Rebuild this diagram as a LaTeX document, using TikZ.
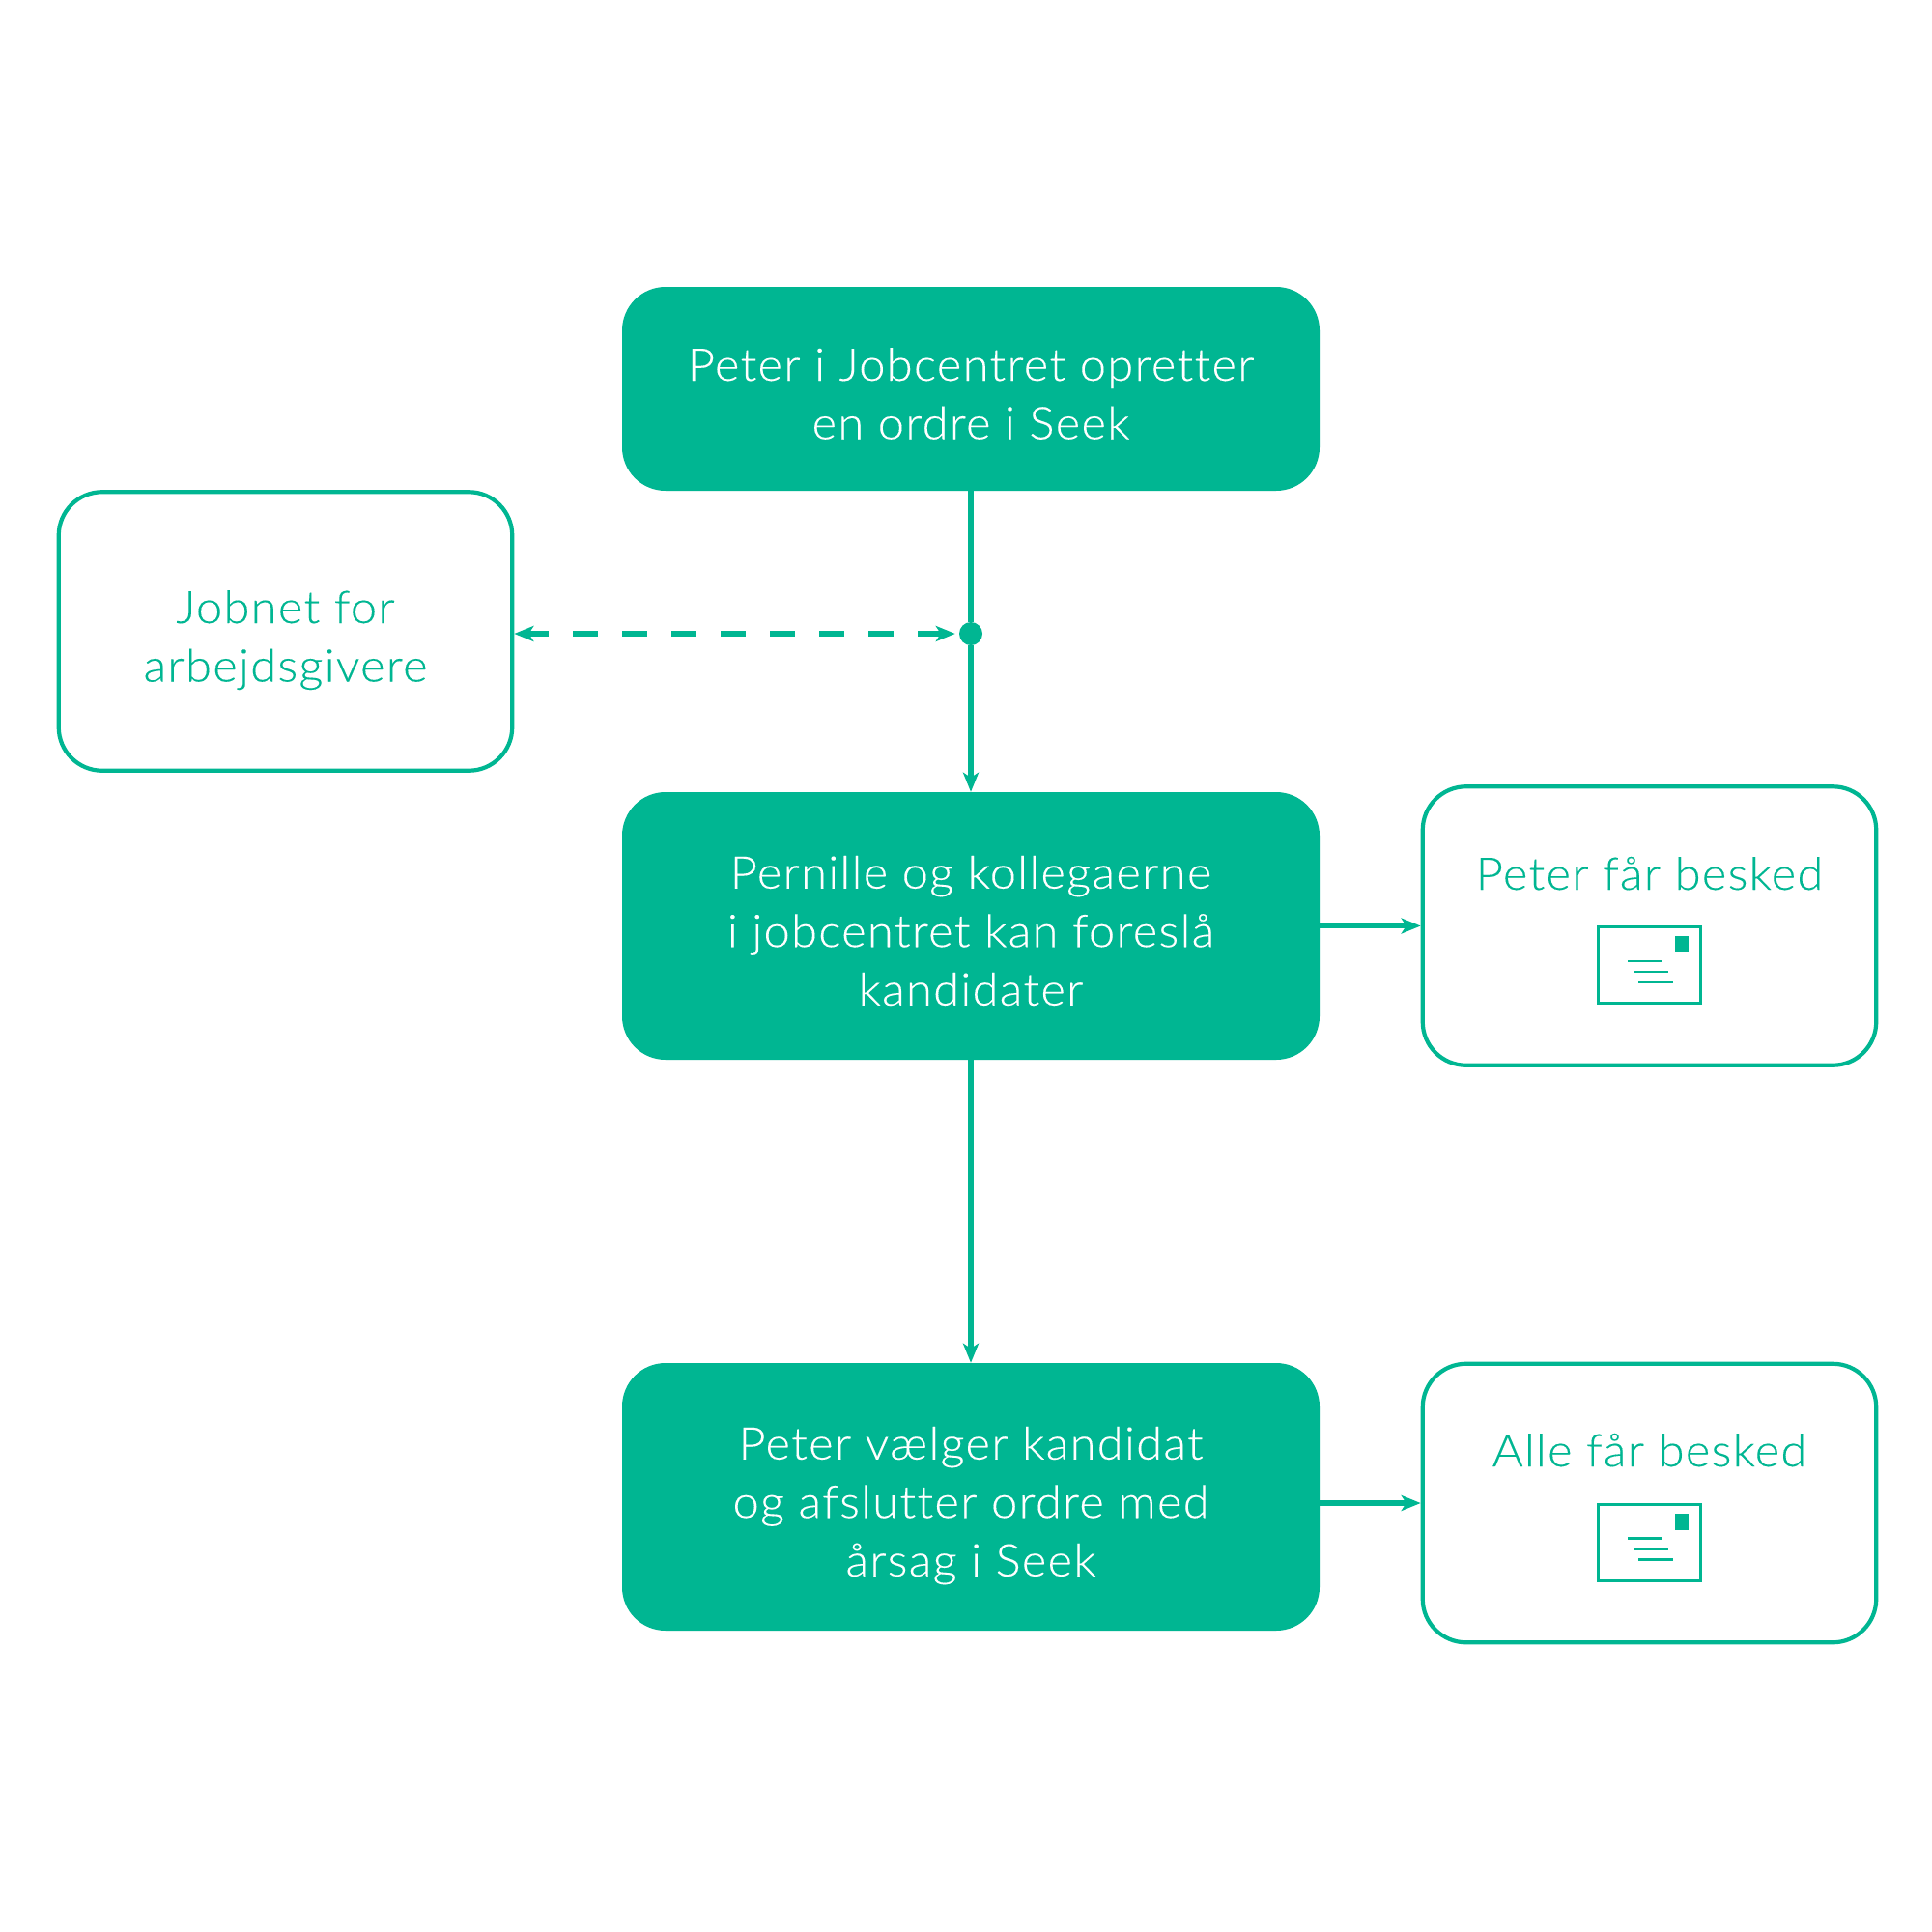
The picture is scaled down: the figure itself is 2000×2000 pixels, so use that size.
\documentclass[tikz,border=0pt]{standalone}
\usepackage{fontspec}
\setmainfont{Lato Light}[FakeStretch=1.05,LetterSpace=2.8,FakeBold=0.2,RawFeature=-liga]
\usetikzlibrary{arrows.meta}
\definecolor{jobgreen}{HTML}{00B692}
\newcommand{\firstln}{\rule{0pt}{55.5pt}}
\newcommand{\lastln}{\rule[-12pt]{0pt}{1pt}}
\tikzset{
  x=1pt,y=-1pt,
  boxtext/.style={align=center,font=\fontsize{46.5}{60.5}\selectfont,inner sep=0pt},
  solidbox/.style={boxtext,rectangle,rounded corners=45pt,fill=jobgreen,text=white,minimum width=722pt},
  outlinebox/.style={boxtext,rectangle,rounded corners=45pt,draw=jobgreen,line width=4.2pt,fill=white,text=jobgreen,minimum width=469.5pt,minimum height=288.5pt},
  labeltext/.style={text=jobgreen,align=center,font=\fontsize{46.5}{60.5}\selectfont,inner sep=0pt,anchor=base},
  conn/.style={draw=jobgreen,line width=5.5pt,-{Stealth[length=20pt,width=16pt,inset=5pt]}},
  dconn/.style={draw=jobgreen,line width=5.5pt,dash pattern=on 26pt off 25pt,dash phase=4pt,{Stealth[length=20pt,width=16pt,inset=5pt]}-{Stealth[length=20pt,width=16pt,inset=5pt]}},
  plainconn/.style={draw=jobgreen,line width=5.5pt},
  dot/.style={circle,fill=jobgreen,minimum size=24pt,inner sep=0pt},
  envrect/.style={draw=jobgreen,line width=3pt},
  envline/.style={draw=jobgreen,line width=2.6pt},
}
\newcommand{\envelope}[2]{%
  \draw[envrect] (#1-53,#2-39.5) rectangle (#1+53,#2+39.5);
  \fill[jobgreen] (#1+27,#2-30) rectangle (#1+41,#2-13);
  \draw[envline] (#1-22,#2-4) -- (#1+14,#2-4);
  \draw[envline] (#1-16,#2+7) -- (#1+20,#2+7);
  \draw[envline] (#1-11,#2+18) -- (#1+25,#2+18);
}
\begin{document}
\begin{tikzpicture}
\useasboundingbox (0,0) rectangle (2000,2000);
\fill[white] (0,0) rectangle (2000,2000);
\node[solidbox,minimum height=211pt] (a) at (1005,402.5) {\firstln Peter i Jobcentret opretter\\en ordre i Seek\lastln};
\node[solidbox,minimum height=277pt] (b) at (1005,958.5) {\firstln Pernille og kollegaerne\\i jobcentret kan foreslå\\kandidater\lastln};
\node[solidbox,minimum height=277pt] (c) at (1005,1549.5) {\firstln Peter vælger kandidat\\og afslutter ordre med\\årsag i Seek\lastln};
\node[outlinebox] (j) at (295.5,653.5) {\firstln Jobnet for\\arbejdsgivere\lastln};
\node[outlinebox] (p) at (1707.5,958.5) {};
\node[outlinebox] (q) at (1707.5,1556) {};
\node[labeltext] (pt) at (1707.5,921) {Peter får besked};
\node[labeltext] (qt) at (1707.5,1518) {Alle får besked};
\node[dot] (d) at (1005,656) {};
\draw[plainconn] (a) -- (d);
\draw[conn] (d) -- (b);
\draw[conn] (b) -- (c);
\draw[dconn,shorten >=4pt] (j.east |- d) -- (d);
\draw[conn] (b.east |- p) -- (p);
\draw[conn] (c.east |- q) -- (q);
\envelope{1707}{999}
\envelope{1707}{1596.5}
\end{tikzpicture}
\end{document}
